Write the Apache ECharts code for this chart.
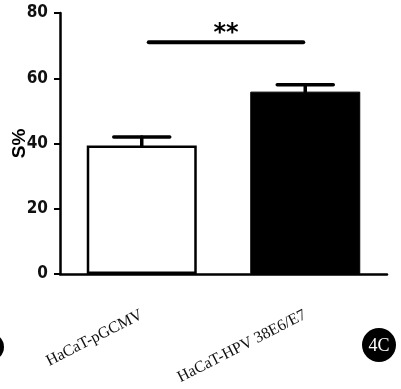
<!DOCTYPE html>
<html>
<head>
<meta charset="utf-8">
<script src="https://cdn.jsdelivr.net/npm/echarts@6/dist/echarts.min.js"></script>
<style>
  html, body { margin: 0; padding: 0; background: #fff; }
  #chart { width: 401px; height: 389px; }
</style>
</head>
<body>
<div id="chart"></div>
<script>
// groups and measured S% (mean, error)
const groups = ['HaCaT-pGCMV', 'HaCaT-HPV 38E6/E7'];
const means = [39.4, 55.9];
const errors = [2.6, 2.1];
const yTicks = [0, 20, 40, 60, 80];
const sigLevel = 71;
const sigMark = '**';

const chart = echarts.init(document.getElementById('chart'));

function renderErrorBar(params, api) {
  const base = api.coord([api.value(0), api.value(1)]);
  const top = api.coord([api.value(0), api.value(2)]);
  const half = 28;
  const style = { stroke: '#000', lineWidth: 3.5, lineCap: 'round' };
  return {
    type: 'group',
    children: [
      { type: 'line', shape: { x1: base[0], y1: base[1], x2: top[0], y2: top[1] }, style },
      { type: 'line', shape: { x1: top[0] - half, y1: top[1], x2: top[0] + half, y2: top[1] }, style }
    ]
  };
}

function renderSig(params, api) {
  if (params.dataIndex > 0) return null;
  const a = api.coord([0, sigLevel]);
  const b = api.coord([1, sigLevel]);
  const x1 = a[0] + 7;
  const x2 = b[0] - 2;
  return {
    type: 'group',
    children: [
      { type: 'line', shape: { x1, y1: a[1], x2, y2: a[1] },
        style: { stroke: '#000', lineWidth: 4, lineCap: 'round' } },
      { type: 'text', x: (x1 + x2) / 2, y: a[1] + 3,
        style: { text: sigMark, fill: '#000', font: 'bold 24px "DejaVu Sans"',
          align: 'center', verticalAlign: 'bottom' } }
    ]
  };
}

chart.setOption({
  animation: false,
  grid: { left: 60, right: 14, top: 13, bottom: 115, outerBoundsMode: 'none' },
  xAxis: {
    type: 'category',
    data: groups,
    axisLine: { lineStyle: { color: '#000', width: 2.5 } },
    axisTick: { alignWithLabel: true, length: 6, lineStyle: { color: '#000', width: 2 } },
    axisLabel: {
      rotate: 27,
      margin: 40,
      color: '#111',
      fontFamily: '"Liberation Serif", serif',
      fontSize: 16
    }
  },
  yAxis: {
    type: 'value',
    min: yTicks[0],
    max: yTicks[yTicks.length - 1],
    interval: 20,
    name: 'S%',
    nameLocation: 'middle',
    nameGap: 31,
    nameMoveOverlap: false,
    nameRotate: 90,
    nameTextStyle: { color: '#000', fontWeight: 'bold', fontSize: 19, fontFamily: '"Liberation Sans", sans-serif' },
    splitLine: { show: false },
    axisLine: { show: true, lineStyle: { color: '#000', width: 2.5 } },
    axisTick: { show: true, length: 6, lineStyle: { color: '#000', width: 2 } },
    axisLabel: {
      margin: 12,
      color: '#111',
      fontWeight: 'bold',
      fontSize: 17,
      fontFamily: '"Liberation Sans Narrow", "DejaVu Sans Condensed", sans-serif'
    }
  },
  series: [
    {
      type: 'bar',
      barWidth: 110,
      data: [
        { value: means[0], itemStyle: { color: '#fff', borderColor: '#000', borderWidth: 2.5 } },
        { value: means[1], itemStyle: { color: '#000', borderColor: '#000', borderWidth: 1 } }
      ],
      z: 2
    },
    {
      type: 'custom',
      renderItem: renderErrorBar,
      data: means.map((m, i) => [i, m, m + errors[i]]),
      z: 1
    },
    {
      type: 'custom',
      renderItem: renderSig,
      data: [[0, sigLevel]],
      z: 3
    }
  ],
  graphic: [
    { type: 'circle', shape: { cx: 379, cy: 345, r: 17 }, style: { fill: '#000' } },
    { type: 'text', x: 379, y: 346, style: { text: '4C', fill: '#fff', font: '18px "Liberation Serif", serif', align: 'center', verticalAlign: 'middle' } },
    { type: 'circle', shape: { cx: -10, cy: 347, r: 14 }, style: { fill: '#000' } }
  ]
});
</script>
</body>
</html>
